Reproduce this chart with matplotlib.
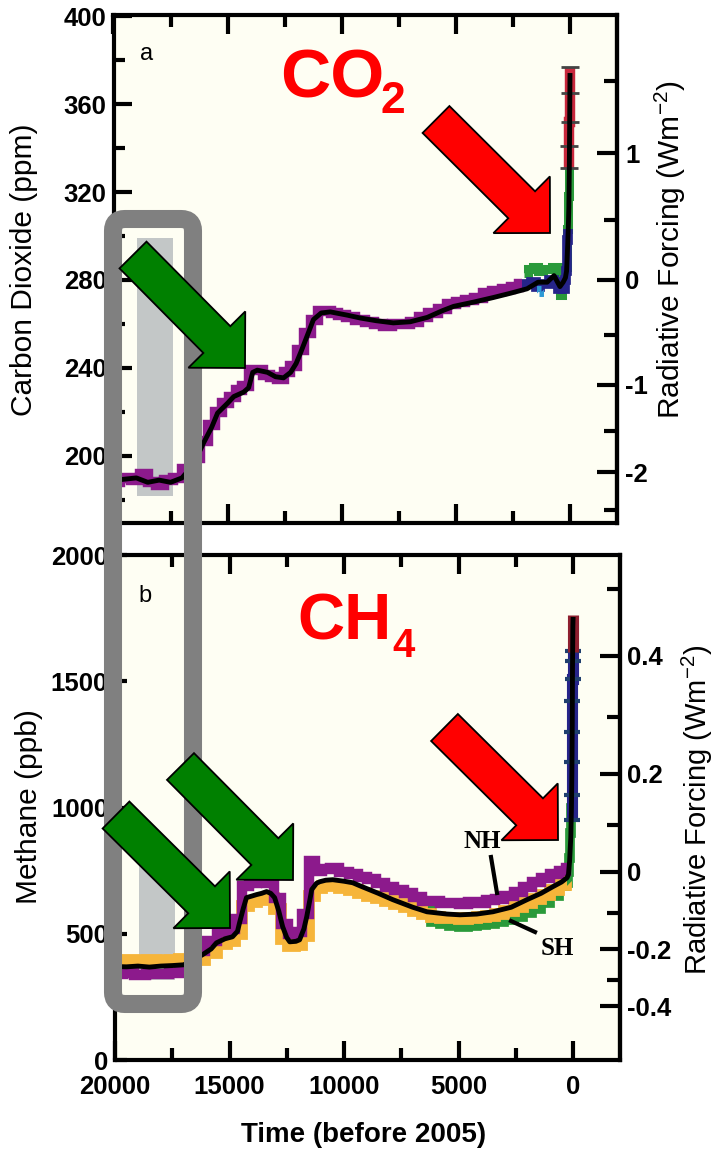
import numpy as np
import matplotlib
matplotlib.use("Agg")
import matplotlib.pyplot as plt
from matplotlib.patches import FancyArrow, FancyBboxPatch, Rectangle
from matplotlib.lines import Line2D
from matplotlib.transforms import Affine2D

plt.rcParams['font.family'] = ['Liberation Sans', 'DejaVu Sans']
plt.rcParams['mathtext.default'] = 'regular'
plt.rcParams['axes.unicode_minus'] = False

# ---------------- data ----------------
# CO2 smoothed curve (years before 2005, ppm)
co2_years = [19900, 19000, 18500, 18000, 17500, 17000, 16500, 16050, 15700, 15440, 15000,
             14730, 14300, 14080, 13900, 13700, 13250, 12900, 12550, 12240, 12000, 11800,
             11500, 11240, 10900, 10500, 10000, 9750, 9180, 8500, 7740, 7000, 6250, 5600,
             5100, 4200, 3370, 2600, 1880, 1400, 1000, 700, 440, 300, 200, 150, 100, 70,
             50, 30, 15, 0]
co2_ppm = [189, 190, 188, 189, 188, 190, 196, 206, 213, 219.5, 224,
           227, 229, 231, 238, 239, 238, 236, 235.5, 238, 242, 247,
           255, 262, 265, 265.5, 264.5, 264, 262.7, 261.5, 260.5, 261, 263, 266,
           268, 270, 272, 274, 276, 279, 279, 282, 277, 279, 281, 284, 296, 305,
           313, 330, 350, 373]
# CO2 ice-core measurements (purple)
co2_ice_years = [19900, 19500, 19000, 18700, 18300, 18000, 17600, 17200, 16800, 16400, 16000,
                 15700, 15400, 15100, 14800, 14500, 14200, 13900, 13600, 13300, 13000, 12700,
                 12400, 12100, 11800, 11500, 11200, 10900, 10600, 10300, 10000, 9600, 9200,
                 8800, 8400, 8000, 7600, 7200, 6800, 6400, 6000, 5600, 5200, 4800, 4400,
                 4000, 3600, 3200, 2800, 2400, 2100]
co2_ice_ppm = [188, 190, 189, 192, 188, 187, 189, 190, 194, 199, 207,
               214, 220, 224, 227, 230, 232, 239, 239, 237, 236, 235,
               238, 241, 248, 256, 262, 266, 266, 265, 264, 263, 262,
               261, 260, 259, 260, 260, 261, 263, 265, 267, 269, 270, 271,
               272, 274, 275, 276, 277, 278]
# recent ice / firn records
co2_navy_years = [2100, 1800, 1600, 1400, 1200, 1000, 800, 600, 450, 350, 250, 200, 160, 130, 100, 80]
co2_navy_ppm = [278, 278, 279, 277, 278, 278, 280, 279, 276, 277, 276, 280, 284, 290, 298, 303]
co2_green_years = [2000, 1700, 1500, 1300, 1100, 900, 700, 500, 400, 300, 150, 120, 100, 80, 60, 50, 40]
co2_green_ppm = [283, 285, 286, 284, 285, 285, 286, 284, 273, 281, 286, 295, 303, 310, 318, 326, 331]
co2_lblue_years = [1350, 1250]
co2_lblue_ppm = [274, 276]
# instrumental record (red)
co2_red_years = [40, 30, 20, 10, 0]
co2_red_ppm = [331, 341, 352, 365, 377]

# CH4 smoothed curve (years before 2005, ppb)
ch4_years = [19900, 19500, 19000, 18500, 18000, 17500, 17000, 16500, 16180, 15800, 15570, 15200,
             14870, 14650, 14560, 14400, 14260, 14000, 13820, 13600, 13380, 13200, 13030, 12850,
             12680, 12500, 12370, 12100, 11940, 11750, 11630, 11500, 11410, 11200, 11060, 10800,
             10490, 10000, 9620, 9310, 8500, 7870, 7000, 6380, 5500, 4940, 4200, 3500, 2700,
             2010, 1400, 870, 500, 260, 200, 150, 100, 70, 50, 35, 25, 15, 8, 0]
ch4_ppb = [370, 369, 372, 368, 372, 374, 377, 400, 417, 440, 464, 480,
           488, 510, 544, 600, 643, 650, 655, 660, 667, 660, 643, 590,
           528, 485, 468, 470, 476, 520, 567, 630, 675, 700, 706, 712,
           714, 708, 702, 690, 660, 635, 605, 587, 578, 575, 578, 587, 605,
           635, 660, 687, 705, 722, 735, 790, 880, 1000, 1150, 1330, 1540, 1650, 1720, 1745]
# Northern hemisphere ice cores (purple)
ch4_nh_years = [19900, 19400, 18900, 18400, 17900, 17400, 17000, 16300, 15800, 15300, 14900,
                14600, 14300, 14000, 13600, 13200, 12900, 12600, 12300, 12000, 11700, 11400,
                11100, 10800, 10400, 10000, 9600, 9200, 8800, 8400, 8000, 7600, 7200, 6800,
                6400, 6000, 5600, 5200, 4800, 4400, 4000, 3600, 3200, 2800, 2400, 2000, 1600,
                1200, 800, 400, 250]
ch4_nh_ppb = [340, 345, 338, 342, 340, 345, 350, 430, 470, 505, 520,
              560, 690, 700, 705, 700, 640, 540, 500, 505, 580, 790,
              750, 755, 760, 745, 738, 725, 715, 700, 685, 672, 660, 645,
              630, 628, 620, 622, 618, 625, 622, 632, 636, 650, 665, 685, 705,
              720, 738, 750, 760]
# Southern hemisphere ice cores (orange)
ch4_sh_years = ch4_nh_years
ch4_sh_ppb = [395, 398, 392, 396, 394, 398, 400, 395, 425, 460, 470,
              500, 610, 625, 635, 640, 600, 480, 450, 455, 490, 650,
              680, 690, 692, 680, 672, 662, 650, 640, 630, 618, 604, 590,
              577, 568, 564, 561, 560, 563, 567, 572, 580, 590, 604, 620, 638,
              652, 672, 695, 708]
# other records (green)
ch4_green_years = [6800, 6400, 6000, 5600, 5200, 4800, 4400, 4000, 3600, 3200, 2800, 2400, 2000,
                   1600, 1200, 800, 400, 250, 200, 150, 100, 70, 50, 40]
ch4_green_ppb = [625, 612, 548, 538, 532, 528, 530, 535, 540, 548, 555, 565, 582,
                 600, 622, 650, 690, 700, 745, 800, 900, 1000, 1100, 1000]
# firn / recent records (navy)
ch4_navy_years = [45, 40, 35, 30, 27, 24, 20, 17]
ch4_navy_ppb = [950, 1050, 1180, 1300, 1420, 1510, 1580, 1620]
# instrumental (dark red)
ch4_red_years = [14, 10, 5, 0]
ch4_red_ppb = [1615, 1680, 1730, 1762]

# shaded glacial span
glacial_span = [18950, 17400]
co2_shade_range = [182, 299]
ch4_shade_range = [318, 830]

co2_rf_major = [-2, -1, 0, 1]
co2_rf_minor = [-2.5, -1.5, -0.5, 0.5, 1.5]
ch4_rf_major = [-0.4, -0.2, 0, 0.2, 0.4]
ch4_rf_minor = [-0.3, -0.1, 0.1, 0.3, 0.5]

# ---------------- colours ----------------
PURPLE = '#8C1A8C'
ORANGE = '#F6B53A'
GREEN = '#2A9A3A'
NAVY = '#26248A'
LBLUE = '#2E9BD6'
RED_CO2 = '#C8283C'
RED_CH4 = '#8E1F2F'
SHADE = '#C3C7C7'
BG = '#FEFEF3'

BAND = dict(drawstyle='steps-mid', solid_capstyle='butt', solid_joinstyle='miter')

W, H = 715, 1149
fig = plt.figure(figsize=(W / 100, H / 100), dpi=100)
fig.patch.set_facecolor('white')
px = Affine2D().scale(1 / W, -1 / H).translate(0, 1) + fig.transFigure


def box(l, t, r, b):
    return [l / W, 1 - b / H, (r - l) / W, (b - t) / H]


ax1 = fig.add_axes(box(113.5, 15, 617, 523))
ax2 = fig.add_axes(box(115, 555, 620, 1060))

for ax in (ax1, ax2):
    ax.set_facecolor(BG)
    for s in ax.spines.values():
        s.set_linewidth(3)
    ax.set_xticks([20000, 15000, 10000, 5000, 0])
    ax.set_xticks([17500, 12500, 7500, 2500], minor=True)
    ax.tick_params(axis='x', which='major', direction='in', length=14, width=3,
                   top=True, bottom=True)
    ax.tick_params(axis='x', which='minor', direction='in', length=8.5, width=3,
                   top=True, bottom=True)
    ax.tick_params(axis='y', which='both', direction='in', right=False, left=True)

# ---- panel a ----
ax1.set_xlim(20000, -2060)
ax1.set_ylim(169.5, 400.5)
ax1.set_yticks([200, 240, 280, 320, 360, 400])
ax1.set_yticks([180, 220, 260, 300, 340, 380], minor=True)
ax1.tick_params(axis='y', which='major', length=13, width=3, pad=5)
ax1.tick_params(axis='y', which='minor', length=8, width=3)
ax1.tick_params(axis='x', labelbottom=False)
for lab in ax1.get_yticklabels():
    lab.set_fontsize(18.5); lab.set_fontweight('bold')

ax1.add_patch(Rectangle((glacial_span[0], co2_shade_range[0]),
                        glacial_span[1] - glacial_span[0],
                        co2_shade_range[1] - co2_shade_range[0],
                        facecolor=SHADE, edgecolor='none', zorder=1))
ax1.plot(co2_ice_years, co2_ice_ppm, color=PURPLE, lw=7.5, zorder=2, **BAND)
ax1.plot(co2_green_years, co2_green_ppm, color=GREEN, lw=6.5, zorder=2.0, **BAND)
ax1.plot(co2_navy_years, co2_navy_ppm, color=NAVY, lw=7, zorder=2.1, **BAND)
ax1.plot(co2_lblue_years, co2_lblue_ppm, color=LBLUE, lw=5, zorder=2.2, **BAND)
ax1.plot(co2_red_years, co2_red_ppm, color=RED_CO2, lw=7.5, zorder=2.2,
         marker='_', ms=13, mew=2, mec='#444444', **BAND)
ax1.plot(co2_years, co2_ppm, color='black', lw=3.5, zorder=3)

sec1 = ax1.secondary_yaxis(
    'right',
    functions=(lambda c: 5.35 * np.log(np.clip(c, 1e-3, None) / 280.0),
               lambda r: 280.0 * np.exp(np.asarray(r) / 5.35)))
sec1.set_yticks(co2_rf_major, labels=[str(v) for v in co2_rf_major])
sec1.set_yticks(co2_rf_minor, minor=True)
sec1.tick_params(which='major', direction='in', length=14.4, width=3, pad=6)
sec1.tick_params(which='minor', direction='in', length=9.4, width=3)
sec1.spines['right'].set_linewidth(3)
for lab in sec1.get_yticklabels():
    lab.set_fontsize(18.5); lab.set_fontweight('bold')

# ---- panel b ----
ax2.set_xlim(20000, -2050)
ax2.set_ylim(0, 2000)
ax2.set_yticks([0, 500, 1000, 1500, 2000])
ax2.set_yticks([250, 750, 1250, 1750], minor=True)
ax2.tick_params(axis='y', which='major', length=8.6, width=3, pad=5)
ax2.tick_params(axis='y', which='minor', length=4.3, width=3)
ax2.tick_params(axis='x', which='major', pad=11)
ax2.set_xticklabels(['20000', '15000', '10000', '5000', '0'])
for lab in ax2.get_yticklabels() + ax2.get_xticklabels():
    lab.set_fontsize(18.5); lab.set_fontweight('bold')

ax2.add_patch(Rectangle((glacial_span[0], ch4_shade_range[0]),
                        glacial_span[1] - glacial_span[0],
                        ch4_shade_range[1] - ch4_shade_range[0],
                        facecolor=SHADE, edgecolor='none', zorder=1))
ax2.plot(ch4_green_years, ch4_green_ppb, color=GREEN, lw=7, zorder=2, **BAND)
ax2.plot(ch4_sh_years, ch4_sh_ppb, color=ORANGE, lw=8.5, zorder=2.1, **BAND)
ax2.plot(ch4_nh_years, ch4_nh_ppb, color=PURPLE, lw=7.5, zorder=2.2, **BAND)
ax2.plot(ch4_navy_years, ch4_navy_ppb, color=NAVY, lw=8, zorder=2.3,
         marker='_', ms=12, mew=3, mec='#1f3f6f', **BAND)
ax2.plot(ch4_red_years, ch4_red_ppb, color=RED_CH4, lw=8, zorder=2.3, **BAND)
ax2.plot(ch4_years, ch4_ppb, color='black', lw=3.5, zorder=3)

sec2 = ax2.secondary_yaxis(
    'right',
    functions=(lambda m: 0.0315 * (np.sqrt(np.clip(m, 0, None)) - np.sqrt(746.0)),
               lambda r: np.clip(np.sqrt(746.0) + np.asarray(r) / 0.0315, 0, None) ** 2))
sec2.set_yticks(ch4_rf_major, labels=['-0.4', '-0.2', '0', '0.2', '0.4'])
sec2.set_yticks(ch4_rf_minor, minor=True)
sec2.tick_params(which='major', direction='in', length=14.4, width=3, pad=5)
sec2.tick_params(which='minor', direction='in', length=9.4, width=3)
sec2.spines['right'].set_linewidth(3)
for lab in sec2.get_yticklabels():
    lab.set_fontsize(18.5); lab.set_fontweight('bold')

# ---- labels ----
fig.text(24, 270, 'Carbon Dioxide (ppm)', transform=px, rotation=90, ha='center', va='center',
         fontsize=21.5)
fig.text(29, 807, 'Methane (ppb)', transform=px, rotation=90, ha='center', va='center',
         fontsize=21.5)
fig.text(670, 250, 'Radiative Forcing (Wm$^{-2}$)', transform=px, rotation=90, ha='center',
         va='center', fontsize=21.5)
fig.text(697, 810, 'Radiative Forcing (Wm$^{-2}$)', transform=px, rotation=90, ha='center',
         va='center', fontsize=21)
fig.text(364, 1135, 'Time (before 2005)', transform=px, ha='center', va='center',
         fontsize=20, fontweight='bold')
fig.text(140, 60, 'a', transform=px, ha='left', va='baseline', fontsize=17)
fig.text(138, 602, 'b', transform=px, ha='left', va='baseline', fontsize=17)

# NH / SH labels
fig.text(482, 848, 'NH', transform=px, ha='center', va='baseline', fontsize=18,
         fontweight='bold', family='Liberation Serif', zorder=8)
fig.text(557, 955, 'SH', transform=px, ha='center', va='baseline', fontsize=18,
         fontweight='bold', family='Liberation Serif', zorder=8)
fig.add_artist(Line2D([491, 497], [857, 893], transform=px, color='black', lw=3, zorder=8))
fig.add_artist(Line2D([511, 535], [921, 932], transform=px, color='black', lw=3, zorder=8))

# ---- grey rounded frame ----
fig.add_artist(FancyBboxPatch((113, 219), 80, 785, boxstyle='round,pad=0,rounding_size=12',
                              transform=px, facecolor='none', edgecolor='#808080',
                              lw=13, zorder=5))

# ---- block arrows ----
arrows = [((436, 119.5), (550, 233), '#FF0000'),
          ((133, 255), (245, 368), '#008000'),
          ((116, 815), (230, 928), '#008000'),
          ((180.5, 766.5), (293, 880), '#008000'),
          ((444.5, 727.5), (558, 840), '#FF0000')]
for (x0, y0), (x1, y1), c in arrows:
    fig.add_artist(FancyArrow(x0, y0, x1 - x0, y1 - y0, width=38, head_width=80,
                              head_length=40, length_includes_head=True, transform=px,
                              facecolor=c, edgecolor='black', lw=1.3, zorder=6))

# ---- big red formulas ----
fig.text(280, 98, 'CO', transform=px, ha='left', va='baseline', fontsize=50,
         fontweight='bold', color='#FF0000', zorder=7)
fig.text(381, 113, '2', transform=px, ha='left', va='baseline', fontsize=32,
         fontweight='bold', color='#FF0000', zorder=7)
fig.text(297, 640, 'CH', transform=px, ha='left', va='baseline', fontsize=47,
         fontweight='bold', color='#FF0000', zorder=7)
fig.text(392, 657, '4', transform=px, ha='left', va='baseline', fontsize=29,
         fontweight='bold', color='#FF0000', zorder=7)

fig.savefig('out.png', dpi=100, facecolor='white')
